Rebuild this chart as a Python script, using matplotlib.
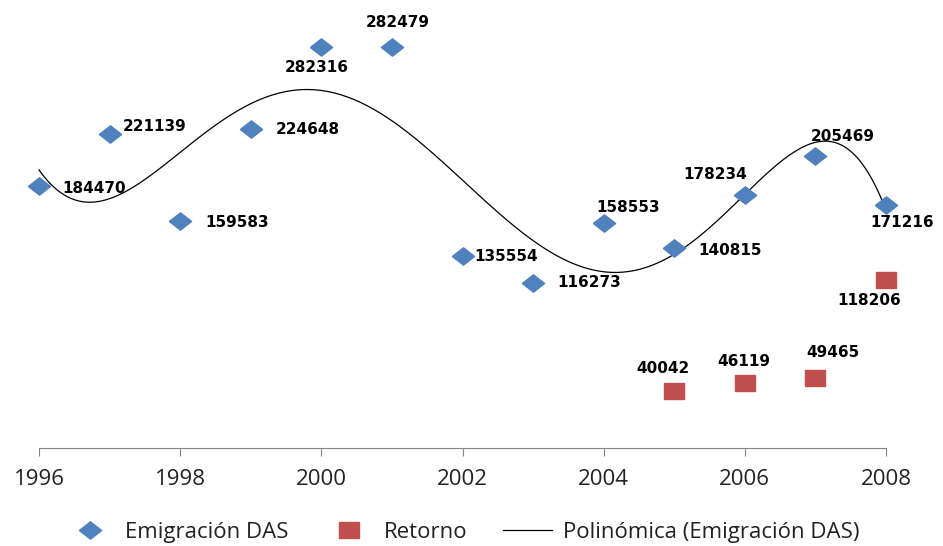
import numpy as np
from matplotlib import pyplot as plt

years = [1996, 1997, 1998, 1999, 2000, 2001, 2002, 2003, 2004, 2005, 2006, 2007, 2008]
emigracion = [184470, 221139, 159583, 224648, 282316, 282479, 135554, 116273, 158553, 140815, 178234, 205469, 171216]
retorno_years = [2005, 2006, 2007, 2008]
retorno = [40042, 46119, 49465, 118206]

# label offsets in pixels (dx, dy, ha)
emi_offsets = [(23, -2, 'left'), (13, 7, 'left'), (25, -1, 'left'), (25, -1, 'left'),
               (-5, -20, 'center'), (6, 24, 'center'), (12, -1, 'left'), (24, 0, 'left'),
               (24, 15, 'center'), (24, -2, 'left'), (-30, 20, 'center'), (27, 20, 'center'),
               (16, -18, 'center')]
ret_offsets = [(-11, 23), (-1, 21), (18, 25), (-17, -20)]

blue = '#4F81BD'
red = '#C0504D'
diamond = [(-1, 0), (0, 0.78), (1, 0), (0, -0.78), (-1, 0)]
rect = [(-1, -0.75), (1, -0.75), (1, 0.75), (-1, 0.75), (-1, -0.75)]

fig = plt.figure(figsize=(9.43, 5.46), dpi=100)
ax = fig.add_axes([39 / 943, 98 / 546, (886 - 39) / 943, (448 - 22) / 546])

ax.plot(years, emigracion, marker=diamond, ls='none', color=blue, markersize=16,
        label='Emigración DAS', zorder=3, clip_on=False)
ax.plot(retorno_years, retorno, marker=rect, ls='none', color=red, markersize=14.5,
        label='Retorno', zorder=3, clip_on=False)

# polynomial trend line like Excel's
coef = np.polyfit(np.array(years) - 2002, emigracion, 6)
xs = np.linspace(1996, 2008, 300)
ax.plot(xs, np.polyval(coef, xs - 2002), color='black', lw=0.9,
        label='Polinómica (Emigración DAS)', zorder=2, clip_on=False)

lab_font = dict(family='DejaVu Sans', weight='bold', size=11, color='black')
for x, y, (dx, dy, ha) in zip(years, emigracion, emi_offsets):
    ax.annotate(str(y), (x, y), xytext=(dx, dy), textcoords='offset pixels',
                ha=ha, va='center', **lab_font)
for x, y, (dx, dy) in zip(retorno_years, retorno, ret_offsets):
    ax.annotate(str(y), (x, y), xytext=(dx, dy), textcoords='offset pixels',
                ha='center', va='center', **lab_font)

ax.set_xlim(1996, 2008)
ax.set_ylim(0, 300000)
ax.set_xticks(range(1996, 2009, 2))
ax.set_yticks([])
for s in ['left', 'right', 'top']:
    ax.spines[s].set_visible(False)
ax.spines['bottom'].set_color('#868686')
ax.tick_params(axis='x', colors='#868686', length=6, labelsize=16, labelcolor='#222222', pad=9)
for t in ax.get_xticklabels():
    t.set_family('Open Sans')

ax.legend(loc='center', bbox_to_anchor=(0.5, -0.198), ncol=3, frameon=False,
          prop={'family': 'Open Sans', 'size': 16}, handlelength=2.2, handletextpad=0.5,
          columnspacing=1.6, labelcolor='#222222')

fig.savefig('out.png', dpi=100)
